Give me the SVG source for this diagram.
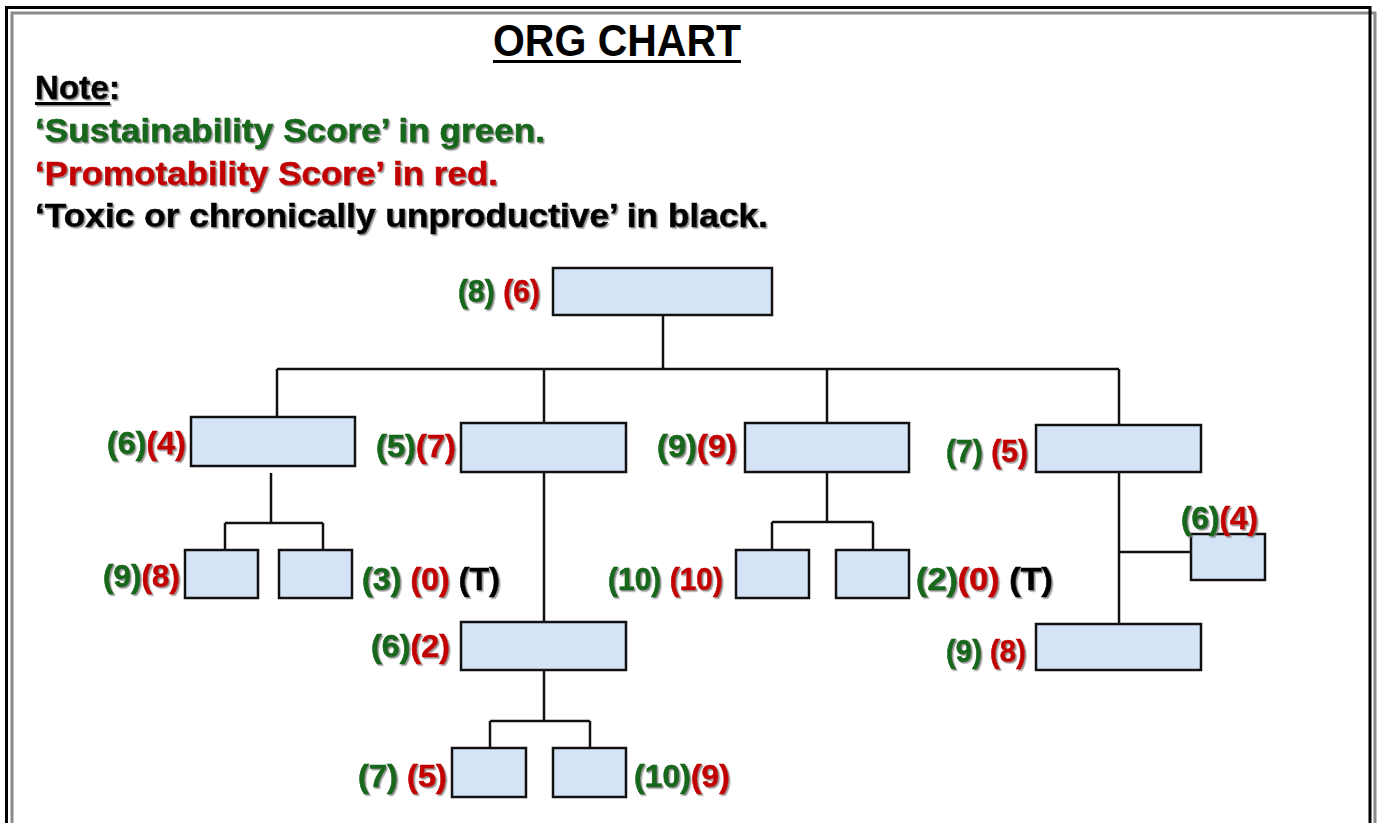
<svg xmlns="http://www.w3.org/2000/svg" width="1382" height="823" viewBox="0 0 1382 823">
<defs>
<filter id="sh" x="-5%" y="-20%" width="110%" height="140%"><feDropShadow dx="1.5" dy="1.5" stdDeviation="0.6" flood-color="#777" flood-opacity="0.8"/></filter>
<style>
.box{fill:#d5e3f6;stroke:#111;stroke-width:2.5}
.ln{fill:none;stroke:#111;stroke-width:2.5}
.t{font-family:"Liberation Sans",Arial,sans-serif;font-weight:bold}
.hd{font-size:33px}
.sc{font-size:31px;filter:url(#sh)}
.g{fill:#16671a;stroke:#16671a;stroke-width:0.6}.r{fill:#c30000;stroke:#c30000;stroke-width:0.6}.k{fill:#000;stroke:#000;stroke-width:0.6}
</style>
</defs>
<rect width="1382" height="823" fill="#fff"/>
<g id="frame">
<path d="M12 830 V13 H1375 V830" fill="none" stroke="#8a8a8a" stroke-width="3"/>
<path d="M6.5 830 V7.5 H1370 V830" fill="none" stroke="#000" stroke-width="3"/>
</g>
<g id="title">
<text class="t" x="493" y="56" font-size="45" textLength="248" lengthAdjust="spacingAndGlyphs" fill="#000">ORG CHART</text>
<rect x="493" y="60" width="248" height="3" fill="#000"/>
</g>
<g id="note" class="t hd" filter="url(#sh)">
<text x="35" y="99" textLength="85" lengthAdjust="spacingAndGlyphs" class="k">Note:</text>
<rect x="35" y="102" width="75" height="3" fill="#000"/>
<text x="35" y="142" textLength="510" lengthAdjust="spacingAndGlyphs" class="g">‘Sustainability Score’ in green.</text>
<text x="35" y="185" textLength="463" lengthAdjust="spacingAndGlyphs" class="r">‘Promotability Score’ in red.</text>
<text x="35" y="227" textLength="733" lengthAdjust="spacingAndGlyphs" class="k">‘Toxic or chronically unproductive’ in black.</text>
</g>
<g id="connectors">
<path class="ln" d="M663 315 V369 M277 369 H1119 M277 369 V417 M544 369 V423 M827 369 V423 M1119 369 V425"/>
<path class="ln" d="M271 473 V523 M225 523 H323 M225 523 V550 M323 523 V550"/>
<path class="ln" d="M544 472 V622 M544 670 V721 M490 721 H590 M490 721 V748 M590 721 V748"/>
<path class="ln" d="M827 472 V522 M772 522 H873 M772 522 V550 M873 522 V550"/>
<path class="ln" d="M1119 472 V624 M1119 552 H1191"/>
</g>
<g id="n-top"><rect class="box" x="553" y="268" width="219" height="47"/>
<text class="t sc" x="458" y="302" textLength="82" lengthAdjust="spacingAndGlyphs"><tspan class="g">(8)</tspan> <tspan class="r">(6)</tspan></text></g>
<g id="n-a"><rect class="box" x="191" y="417" width="164" height="49"/>
<text class="t sc" x="107" y="454" textLength="79" lengthAdjust="spacingAndGlyphs"><tspan class="g">(6)</tspan><tspan class="r">(4)</tspan></text></g>
<g id="n-b"><rect class="box" x="461" y="423" width="165" height="49"/>
<text class="t sc" x="376" y="457" textLength="80" lengthAdjust="spacingAndGlyphs"><tspan class="g">(5)</tspan><tspan class="r">(7)</tspan></text></g>
<g id="n-c"><rect class="box" x="745" y="423" width="164" height="49"/>
<text class="t sc" x="657" y="457" textLength="80" lengthAdjust="spacingAndGlyphs"><tspan class="g">(9)</tspan><tspan class="r">(9)</tspan></text></g>
<g id="n-d"><rect class="box" x="1036" y="425" width="165" height="47"/>
<text class="t sc" x="946" y="462" textLength="82" lengthAdjust="spacingAndGlyphs"><tspan class="g">(7)</tspan> <tspan class="r">(5)</tspan></text></g>
<g id="n-a1"><rect class="box" x="185" y="550" width="73" height="48"/>
<text class="t sc" x="103" y="587" textLength="77" lengthAdjust="spacingAndGlyphs"><tspan class="g">(9)</tspan><tspan class="r">(8)</tspan></text></g>
<g id="n-a2"><rect class="box" x="279" y="550" width="73" height="48"/>
<text class="t sc" x="362" y="590" textLength="138" lengthAdjust="spacingAndGlyphs"><tspan class="g">(3)</tspan> <tspan class="r">(0)</tspan>  <tspan class="k">(T)</tspan></text></g>
<g id="n-b1"><rect class="box" x="461" y="622" width="165" height="48"/>
<text class="t sc" x="371" y="657" textLength="79" lengthAdjust="spacingAndGlyphs"><tspan class="g">(6)</tspan><tspan class="r">(2)</tspan></text></g>
<g id="n-b1a"><rect class="box" x="452" y="748" width="74" height="49"/>
<text class="t sc" x="358" y="787" textLength="89" lengthAdjust="spacingAndGlyphs"><tspan class="g">(7)</tspan>  <tspan class="r">(5)</tspan></text></g>
<g id="n-b1b"><rect class="box" x="553" y="748" width="73" height="49"/>
<text class="t sc" x="634" y="787" textLength="96" lengthAdjust="spacingAndGlyphs"><tspan class="g">(10)</tspan><tspan class="r">(9)</tspan></text></g>
<g id="n-c1"><rect class="box" x="736" y="550" width="73" height="48"/>
<text class="t sc" x="608" y="590" textLength="115" lengthAdjust="spacingAndGlyphs"><tspan class="g">(10)</tspan> <tspan class="r">(10)</tspan></text></g>
<g id="n-c2"><rect class="box" x="836" y="550" width="73" height="48"/>
<text class="t sc" x="916" y="590" textLength="137" lengthAdjust="spacingAndGlyphs"><tspan class="g">(2)</tspan><tspan class="r">(0)</tspan>  <tspan class="k">(T)</tspan></text></g>
<g id="n-d1"><rect class="box" x="1191" y="534" width="74" height="46"/>
<text class="t sc" x="1181" y="529" textLength="77" lengthAdjust="spacingAndGlyphs"><tspan class="g">(6)</tspan><tspan class="r">(4)</tspan></text></g>
<g id="n-d2"><rect class="box" x="1036" y="624" width="165" height="46"/>
<text class="t sc" x="946" y="662" textLength="80" lengthAdjust="spacingAndGlyphs"><tspan class="g">(9)</tspan> <tspan class="r">(8)</tspan></text></g>
</svg>
